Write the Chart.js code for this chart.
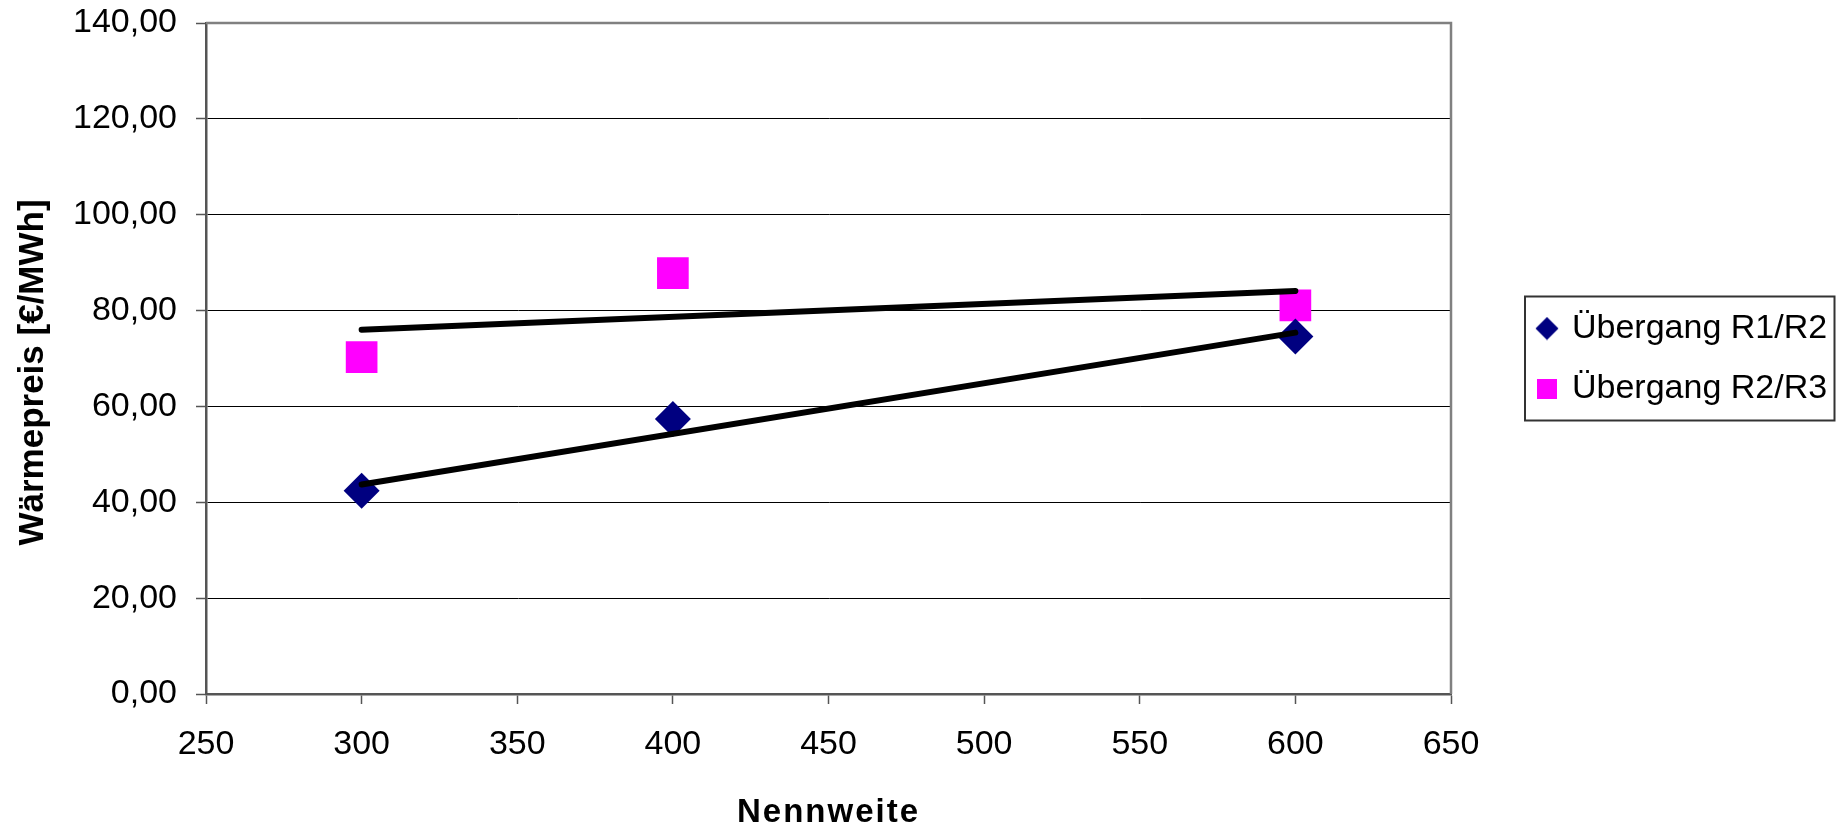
<!DOCTYPE html>
<html>
<head>
<meta charset="utf-8">
<script src="https://cdn.jsdelivr.net/npm/chart.js@4/dist/chart.umd.min.js"></script>
<style>
  body { margin: 0; background: #fff; }
  canvas { display: block; }
</style>
</head>
<body>
<canvas id="myChart" width="1836" height="829"></canvas>
<script>
// values
const seriesNames = ["Übergang R1/R2", "Übergang R2/R3"];
const nennweite = [300, 400, 600];
const preisR1R2 = [42.4, 57.4, 74.6];
const preisR2R3 = [70.3, 87.8, 81.1];

// trendline ends (linear trend drawn in the original)
const trendX = [300, 600];
const trendR1R2 = [43.7, 75.4];
const trendR2R3 = [76.0, 84.1];

const xTitle = "Nennweite";
const yTitle = "Wärmepreis [€/MWh]";

const FONT = "'Liberation Sans', Arial, sans-serif";

function toPoints(xs, ys) {
  return xs.map((x, i) => ({ x: x, y: ys[i] }));
}

// small icons for the legend, the original uses smaller markers there
function legendIcon(kind) {
  const c = document.createElement("canvas");
  const ctx = c.getContext("2d");
  if (kind === "diamond") {
    c.width = 24; c.height = 24;
    ctx.fillStyle = "#000080";
    ctx.beginPath();
    ctx.moveTo(12, 0.5); ctx.lineTo(23.5, 12); ctx.lineTo(12, 23.5); ctx.lineTo(0.5, 12);
    ctx.closePath();
    ctx.fill();
  } else {
    c.width = 20; c.height = 20;
    ctx.fillStyle = "#FF00FF";
    ctx.fillRect(0, 0, 20, 20);
  }
  return c;
}
const legendIcons = [legendIcon("diamond"), legendIcon("square")];

// wrap a scale's title drawing to tweak spacing / position
function patchTitle(scale, fn) {
  if (scale._patched) return;
  const orig = scale.drawTitle;
  scale.drawTitle = function () {
    const ctx = this.ctx;
    ctx.save();
    fn(ctx);
    orig.apply(this, arguments);
    ctx.restore();
  };
  scale._patched = true;
}

// plot frame (top/right), the border round the legend and some layout tweaks
const framePlugin = {
  id: "frame",
  afterInit(chart) {
    // legend takes the whole right strip, like in the original
    const lg = chart.legend;
    const origFit = lg.fit;
    lg.fit = function () {
      origFit.call(this);
      this.width = 385;
    };
  },
  afterLayout(chart) {
    const lg = chart.legend;
    lg.left = 1513;
    lg.right = lg.left + lg.width;
  },
  beforeDraw(chart) {
    patchTitle(chart.scales.x, ctx => { ctx.letterSpacing = "2px"; });
    patchTitle(chart.scales.y, ctx => { ctx.translate(0, 14); });
  },
  beforeDatasetsDraw(chart) {
    const { ctx, chartArea: a } = chart;
    ctx.save();
    ctx.strokeStyle = "#808080";
    ctx.lineWidth = 2.5;
    ctx.beginPath();
    ctx.moveTo(a.left, a.top);
    ctx.lineTo(a.right, a.top);
    ctx.lineTo(a.right, a.bottom);
    ctx.stroke();
    ctx.restore();
  },
  afterDraw(chart) {
    const hb = chart.legend.legendHitBoxes;
    if (!hb || !hb.length) return;
    const { ctx } = chart;
    const left = hb[0].left - 14;
    const top = hb[0].top - 15;
    const last = hb[hb.length - 1];
    const bottom = last.top + last.height + 15;
    const right = chart.width - 1.5;
    ctx.save();
    ctx.strokeStyle = "#333";
    ctx.lineWidth = 2;
    ctx.strokeRect(left, top, right - left, bottom - top);
    ctx.restore();
  }
};

const data = {
  datasets: [
    {
      label: seriesNames[0],
      data: toPoints(nennweite, preisR1R2),
      showLine: false,
      pointStyle: "rectRot",
      pointRadius: 18,
      pointHoverRadius: 18,
      backgroundColor: "#000080",
      borderColor: "#000080",
      pointBorderWidth: 0,
      order: 2
    },
    {
      label: seriesNames[1],
      data: toPoints(nennweite, preisR2R3),
      showLine: false,
      pointStyle: "rect",
      pointRadius: 22.4,
      pointHoverRadius: 22.4,
      backgroundColor: "#FF00FF",
      borderColor: "#FF00FF",
      pointBorderWidth: 0,
      order: 2
    },
    {
      label: "Trend R1/R2",
      data: toPoints(trendX, trendR1R2),
      showLine: true,
      borderColor: "#000",
      borderWidth: 6,
      borderCapStyle: "round",
      pointRadius: 0,
      order: 1
    },
    {
      label: "Trend R2/R3",
      data: toPoints(trendX, trendR2R3),
      showLine: true,
      borderColor: "#000",
      borderWidth: 6,
      borderCapStyle: "round",
      pointRadius: 0,
      order: 1
    }
  ]
};

const config = {
  type: "scatter",
  data: data,
  plugins: [framePlugin],
  options: {
    responsive: false,
    animation: false,
    layout: { padding: { top: 23, left: 0, right: 0, bottom: 0 } },
    plugins: {
      tooltip: { enabled: false },
      legend: {
        position: "right",
        fullSize: false,
        labels: {
          usePointStyle: true,
          boxWidth: 16,
          padding: 26,
          color: "#000",
          font: { family: FONT, size: 34 },
          generateLabels(chart) {
            const items = Chart.defaults.plugins.legend.labels.generateLabels(chart);
            return items
              .filter(it => it.datasetIndex < 2)
              .map(it => Object.assign(it, { pointStyle: legendIcons[it.datasetIndex], lineWidth: 0 }));
          }
        }
      }
    },
    scales: {
      x: {
        type: "linear",
        min: 250,
        max: 650,
        afterFit(scale) { scale.height = 135; },
        ticks: {
          stepSize: 50,
          color: "#000",
          padding: 20,
          maxRotation: 0,
          autoSkip: false,
          font: { family: FONT, size: 34 }
        },
        grid: {
          drawOnChartArea: false,
          drawTicks: true,
          tickLength: 10,
          tickColor: "#555",
          tickWidth: 1.5
        },
        border: { color: "#555", width: 2.5 },
        title: {
          display: true,
          text: xTitle,
          color: "#000",
          padding: { top: 0, bottom: 0 },
          font: { family: FONT, size: 33, weight: "bold", lineHeight: 1 }
        }
      },
      y: {
        type: "linear",
        min: 0,
        max: 140,
        afterFit(scale) {
          scale.width = 206;
          // tick label padding should not push the plot top down
          scale.paddingTop = 0;
          scale.paddingBottom = 0;
        },
        ticks: {
          stepSize: 20,
          color: "#000",
          padding: 19,
          font: { family: FONT, size: 34 },
          callback: v => v.toFixed(2).replace(".", ",")
        },
        grid: {
          color: "#000",
          lineWidth: 1,
          drawTicks: true,
          tickLength: 10,
          tickColor: "#555",
          tickWidth: 1.5
        },
        border: { color: "#555", width: 2.5 },
        title: {
          display: true,
          text: yTitle,
          color: "#000",
          padding: { top: 16, bottom: 0 },
          font: { family: FONT, size: 35, weight: "bold", lineHeight: 1 }
        }
      }
    }
  }
};

const graphChart = new Chart(document.getElementById("myChart"), config);
</script>
</body>
</html>
